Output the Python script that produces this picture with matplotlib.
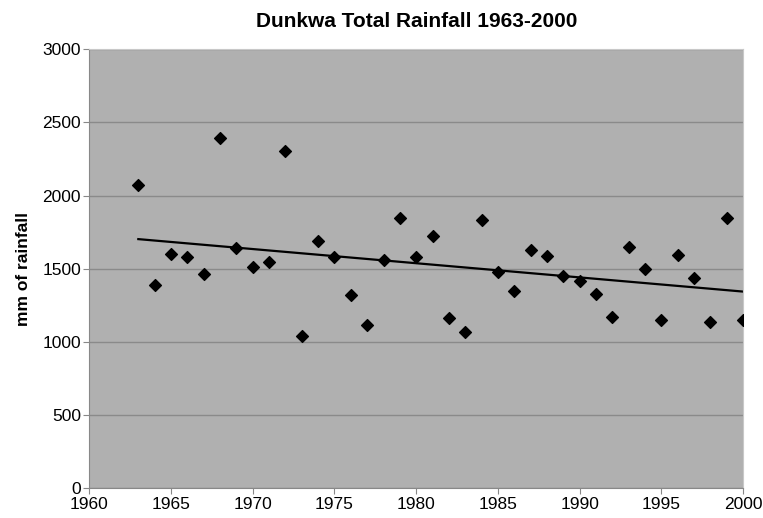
import matplotlib
matplotlib.use("Agg")
import matplotlib.pyplot as plt
import numpy as np

# Anual rainfall at Dunkwa (mm)
years = list(range(1963, 2001))
rainfall = [
    2076, 1393, 1598, 1578, 1462, 2393, 1641, 1514, 1546, 2304,
    1043, 1689, 1578, 1320, 1115, 1557, 1844, 1578, 1725, 1161,
    1068, 1833, 1480, 1352, 1628, 1591, 1448, 1418, 1329, 1170,
    1648, 1502, 1154, 1596, 1439, 1138, 1846, 1150,
]

TITLE = "Dunkwa Total Rainfall 1963-2000"
YLABEL = "mm of rainfall"

plt.rcParams["font.family"] = ["Liberation Sans", "DejaVu Sans"]

fig = plt.figure(figsize=(7.63, 5.18), dpi=100)
ax = fig.add_axes([0.117, 0.057, 0.857, 0.848])
ax.set_facecolor("#b0b0b0")

x = np.array(years, dtype=float)
y = np.array(rainfall, dtype=float)

# linear trend line, as in the original spreadsheet chart
slope, intercept = np.polyfit(x, y, 1)
ax.plot([x[0], x[-1]], [slope * x[0] + intercept, slope * x[-1] + intercept],
        color="black", linewidth=1.6, zorder=2)

ax.scatter(x, y, marker="D", s=36, color="black", zorder=3)

ax.set_xlim(1960, 2000)
ax.set_ylim(0, 3000)
ax.set_xticks(range(1960, 2001, 5))
ax.set_yticks(range(0, 3001, 500))
ax.grid(True, axis="y", color="#8a8a8a", linewidth=1.0)
ax.set_axisbelow(True)

for side in ["top", "right"]:
    ax.spines[side].set_color("#c8c8c8")
for side in ["left", "bottom"]:
    ax.spines[side].set_color("#888888")
ax.tick_params(axis="both", labelsize=12.5, color="#888888", length=4,
               pad=2)

ax.set_ylabel(YLABEL, fontsize=12.5, fontweight="bold", labelpad=8)
ax.set_title(TITLE, fontsize=15, fontweight="bold", pad=16)

fig.savefig("out.png", dpi=100)
